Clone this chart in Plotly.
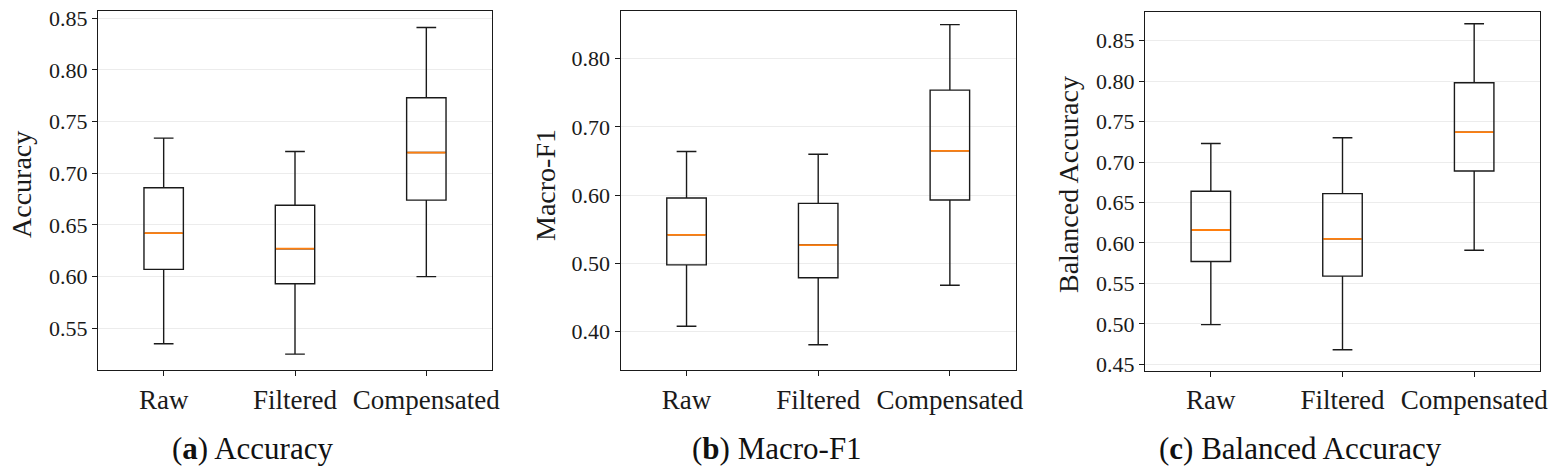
import plotly.graph_objects as go
from plotly.subplots import make_subplots

categories = ["Raw", "Filtered", "Compensated"]

# box statistics: lower whisker, Q1, median, Q3, upper whisker
acc_low = [0.535, 0.525, 0.600]
acc_q1 = [0.607, 0.593, 0.674]
acc_med = [0.642, 0.627, 0.720]
acc_q3 = [0.686, 0.669, 0.773]
acc_high = [0.734, 0.721, 0.841]

f1_low = [0.408, 0.381, 0.468]
f1_q1 = [0.498, 0.479, 0.593]
f1_med = [0.542, 0.527, 0.665]
f1_q3 = [0.596, 0.588, 0.754]
f1_high = [0.664, 0.660, 0.850]

bal_low = [0.499, 0.468, 0.591]
bal_q1 = [0.577, 0.559, 0.689]
bal_med = [0.616, 0.605, 0.737]
bal_q3 = [0.664, 0.661, 0.798]
bal_high = [0.723, 0.730, 0.871]

y_titles = ["Accuracy", "Macro-F1", "Balanced Accuracy"]
captions = ["(<b>a</b>) Accuracy", "(<b>b</b>) Macro-F1", "(<b>c</b>) Balanced Accuracy"]

W, H = 1559, 469
FONT = "Liberation Serif"

panels = [
    (acc_low, acc_q1, acc_med, acc_q3, acc_high),
    (f1_low, f1_q1, f1_med, f1_q3, f1_high),
    (bal_low, bal_q1, bal_med, bal_q3, bal_high),
]

# pixel layout of each panel frame
x_px = [(98, 492), (620.7, 1015.7), (1145, 1540)]
y_px = [(11, 370), (11, 370), (12.3, 370.7)]
y_ranges = [[0.5096, 0.857], [0.3439, 0.8699], [0.4421, 0.8851]]
y_ticks = [(0.55, 0.05), (0.40, 0.10), (0.45, 0.05)]
ytitle_x = [21, 545, 1068]
caption_x = [252, 777, 1300]

fig = make_subplots(rows=1, cols=3)

for i, (low, q1, med, q3, high) in enumerate(panels):
    col = i + 1
    fig.add_trace(go.Box(
        x=categories, lowerfence=low, q1=q1, median=med, q3=q3, upperfence=high,
        width=0.3, whiskerwidth=0.5,
        line=dict(color="#1a1a1a", width=1.4),
        fillcolor="rgba(0,0,0,0)", showlegend=False, boxpoints=False,
    ), row=1, col=col)
    # orange median line on top
    fig.add_trace(go.Box(
        x=categories, lowerfence=med, q1=med, median=med, q3=med, upperfence=med,
        width=0.29, whiskerwidth=1,
        line=dict(color="#ff7f0e", width=1.8),
        fillcolor="rgba(0,0,0,0)", showlegend=False, boxpoints=False,
        hoverinfo="skip",
    ), row=1, col=col)

    x0, x1 = x_px[i]
    yt, yb = y_px[i]
    fig.update_xaxes(
        domain=[x0 / W, x1 / W], range=[-0.5, 2.5],
        showline=True, mirror=True, linecolor="#1a1a1a", linewidth=1.4,
        ticks="outside", ticklen=5, tickcolor="#1a1a1a",
        tickfont=dict(family=FONT, size=27, color="#1a1a1a"),
        showgrid=False, zeroline=False, automargin=False,
        row=1, col=col,
    )
    t0, dt = y_ticks[i]
    fig.update_yaxes(
        domain=[1 - yb / H, 1 - yt / H], range=y_ranges[i],
        tick0=t0, dtick=dt, tickformat=".2f",
        showline=True, mirror=True, linecolor="#1a1a1a", linewidth=1.4,
        ticks="outside", ticklen=5, tickcolor="#1a1a1a",
        tickfont=dict(family=FONT, size=22, color="#1a1a1a"),
        showgrid=True, gridcolor="#ececec", gridwidth=1,
        zeroline=False, automargin=False,
        row=1, col=col,
    )
    fig.add_annotation(
        text=y_titles[i], xref="paper", yref="paper",
        x=ytitle_x[i] / W, y=1 - 185 / H, xanchor="center", yanchor="middle",
        textangle=-90, showarrow=False,
        font=dict(family=FONT, size=28, color="#1a1a1a"),
    )
    fig.add_annotation(
        text=captions[i], xref="paper", yref="paper",
        x=caption_x[i] / W, y=1 - 448 / H, xanchor="center", yanchor="middle",
        showarrow=False,
        font=dict(family=FONT, size=31, color="#111111"),
    )

fig.update_layout(
    width=W, height=H,
    margin=dict(l=0, r=0, t=0, b=0),
    paper_bgcolor="white", plot_bgcolor="white",
    boxmode="overlay",
)

# drop the browser's default body margin so the figure fills the window
fig.write_html("out.html", config={"displayModeBar": False},
               post_script="document.body.style.margin = '0';")
